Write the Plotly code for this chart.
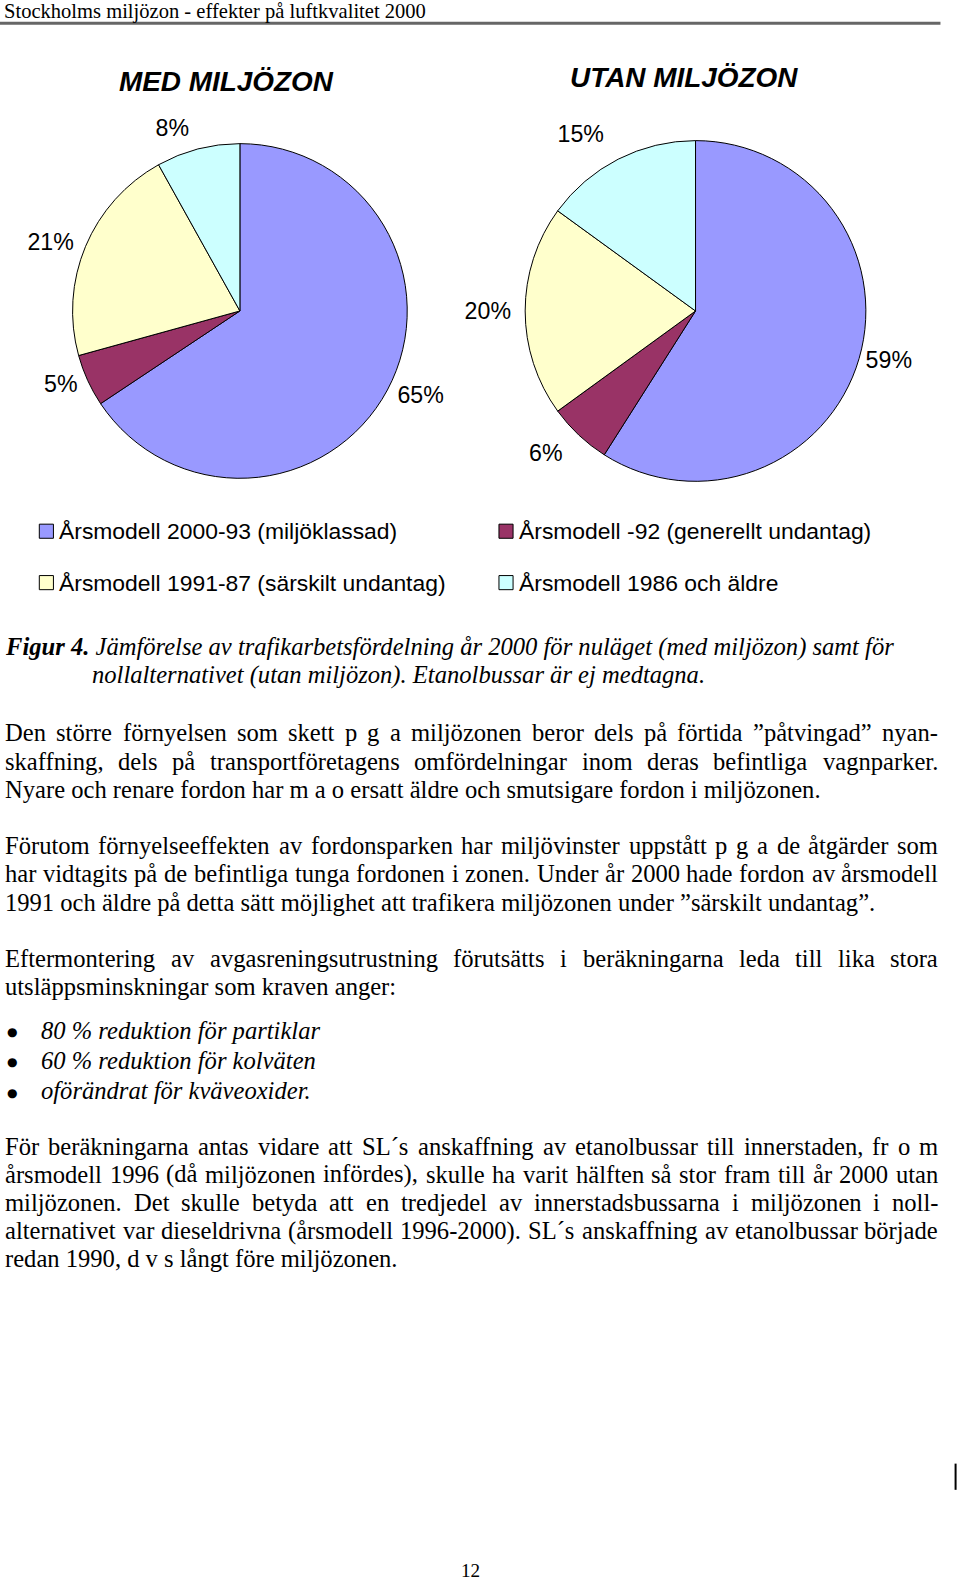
import plotly.graph_objects as go

W, H = 960, 1580

# ---------------- data ----------------
categories = [
    "Årsmodell 2000-93 (miljöklassad)",
    "Årsmodell -92 (generellt undantag)",
    "Årsmodell 1991-87 (särskilt undantag)",
    "Årsmodell 1986 och äldre",
]
med_values = [65, 5, 21, 8]      # MED MILJÖZON (%)
utan_values = [59, 6, 20, 15]    # UTAN MILJÖZON (%)
slice_colors = ["#9999FF", "#993366", "#FFFFCC", "#CCFFFF"]
pie_titles = ["MED MILJÖZON", "UTAN MILJÖZON"]

header_text = "Stockholms miljözon - effekter på luftkvalitet 2000"
caption_lines = [
    "<b><i>Figur 4.</i></b><i> Jämförelse av trafikarbetsfördelning år 2000 för nuläget (med miljözon) samt för</i>",
    "<i>nollalternativet (utan miljözon). Etanolbussar är ej medtagna.</i>",
]
# (text, justified)
body_lines = [
    ("Den större förnyelsen som skett p g a miljözonen beror dels på förtida ”påtvingad” nyan-", True),
    ("skaffning, dels på transportföretagens omfördelningar inom deras befintliga vagnparker.", True),
    ("Nyare och renare fordon har m a o ersatt äldre och smutsigare fordon i miljözonen.", False),
    ("Förutom förnyelseeffekten av fordonsparken har miljövinster uppstått p g a de åtgärder som", True),
    ("har vidtagits på de befintliga tunga fordonen i zonen. Under år 2000 hade fordon av årsmodell", True),
    ("1991 och äldre på detta sätt möjlighet att trafikera miljözonen under ”särskilt undantag”.", False),
    ("Eftermontering av avgasreningsutrustning förutsätts i beräkningarna leda till lika stora", True),
    ("utsläppsminskningar som kraven anger:", False),
    ("För beräkningarna antas vidare att SL´s anskaffning av etanolbussar till innerstaden, fr o m", True),
    ("årsmodell 1996 (då miljözonen infördes), skulle ha varit hälften så stor fram till år 2000 utan", True),
    ("miljözonen. Det skulle betyda att en tredjedel av innerstadsbussarna i miljözonen i noll-", True),
    ("alternativet var dieseldrivna (årsmodell 1996-2000). SL´s anskaffning av etanolbussar började", True),
    ("redan 1990, d v s långt före miljözonen.", False),
]
body_y = [727, 755, 783, 839, 867, 895, 951, 979, 1137, 1165, 1193, 1221, 1249]
bullet_items = [
    "80 % reduktion för partiklar",
    "60 % reduktion för kolväten",
    "oförändrat för kväveoxider.",
]
bullet_y = [1022, 1052, 1082]
page_number = "12"

# ---------------- styling / layout ----------------
K = 1.008   # the photographed page comes out ~0.992x; compensate
SERIF = "Liberation Serif, Times New Roman, serif"
SANS = "Liberation Sans, Arial, sans-serif"
BODY_FS = 24.4
TEXT_L, TEXT_R = 5, 931

TIMES = {' ': 250, '!': 333, '"': 408, '%': 833, "'": 180, '(': 333, ')': 333,
         ',': 250, '-': 333, '.': 250, '/': 278, ':': 278, ';': 278, '?': 444,
         '´': 333, '”': 444, '“': 444, '’': 333}
for d in "0123456789":
    TIMES[d] = 500
TIMES.update(dict(A=722, B=667, C=667, D=722, E=611, F=556, G=722, H=722, I=333,
                  J=389, K=722, L=611, M=889, N=722, O=722, P=556, Q=722, R=667,
                  S=556, T=611, U=722, V=722, W=944, X=722, Y=722, Z=611))
TIMES.update(dict(a=444, b=500, c=444, d=500, e=444, f=333, g=500, h=500, i=278,
                  j=278, k=500, l=278, m=778, n=500, o=500, p=500, q=500, r=333,
                  s=389, t=278, u=500, v=500, w=722, x=500, y=500, z=444))
TIMES.update({'å': 444, 'ä': 444, 'ö': 500, 'Å': 722, 'Ä': 722, 'Ö': 722, 'é': 444})


def tw(s, fs):
    return sum(TIMES.get(ch, 500) for ch in s) * fs / 1000.0


def px(x):
    return x * K / W


def py(y):
    return 1 - y * K / H


annotations = []


def add_text(x, y, text, size, family=SERIF, xanchor="left", color="black"):
    annotations.append(dict(
        x=px(x), y=py(y), xref="paper", yref="paper", text=text, showarrow=False,
        xanchor=xanchor, yanchor="middle", borderpad=0, borderwidth=0,
        font=dict(family=family, size=size * K, color=color)))


fig = go.Figure()

# pies: (cx, cy, radius, label offset, per-slice label push as fraction of radius)
pie_geo = [
    (238, 308.5, 166, 4, [0, 0, 0.01, 0.03]),
    (690, 308.5, 169, 0, [0, 0.085, 0.045, 0.10]),
]
for (cx, cy, r, lab, push), vals, name in zip(pie_geo, [med_values, utan_values], pie_titles):
    # visible pie
    fig.add_trace(go.Pie(
        labels=categories, values=vals, name=name, sort=False,
        direction="clockwise", rotation=0,
        marker=dict(colors=slice_colors, line=dict(color="black", width=1)),
        textinfo="none",
        domain=dict(x=[px(cx - r), px(cx + r)], y=[py(cy + r), py(cy - r)]),
        showlegend=False, hoverinfo="skip"))
    # transparent companion pie that carries the percentage labels a bit further out
    R = (r + lab) * (1 + max(push))
    fig.add_trace(go.Pie(
        labels=categories, values=vals, name=name + " labels", sort=False,
        direction="clockwise", rotation=0, pull=push,
        marker=dict(colors=["rgba(0,0,0,0)"] * len(vals), line=dict(width=0)),
        texttemplate="%{value}%", textposition="outside",
        outsidetextfont=dict(family=SANS, size=23 * K, color="black"),
        domain=dict(x=[px(cx - R), px(cx + R)], y=[py(cy + R), py(cy - R)]),
        showlegend=False, hoverinfo="skip"))

# pie titles
add_text(224.5, 81, "<b><i>%s</i></b>" % pie_titles[0], 27.7, SANS, "center")
add_text(679, 77, "<b><i>%s</i></b>" % pie_titles[1], 27.7, SANS, "center")

# legend (custom, 2 x 2)
shapes = []
leg_x = [39, 495]
leg_y = [527, 578]
for i, (cat, col) in enumerate(zip(categories, slice_colors)):
    x0 = leg_x[i % 2]
    y0 = leg_y[i // 2]
    shapes.append(dict(type="rect", xref="paper", yref="paper",
                       x0=px(x0), x1=px(x0 + 14), y0=py(y0 + 7), y1=py(y0 - 7),
                       fillcolor=col, line=dict(color="black", width=1)))
    add_text(x0 + 20, y0, cat, 22.7, SANS)

# header
add_text(4, 11, header_text, 20.4)
shapes.append(dict(type="line", xref="paper", yref="paper", x0=0, x1=px(933),
                   y0=py(23), y1=py(23), line=dict(color="#666666", width=3)))

# caption
add_text(TEXT_L, 642, caption_lines[0], BODY_FS)
add_text(91, 670, caption_lines[1], BODY_FS)

# body text (justified where appropriate)
for (line, just), yy in zip(body_lines, body_y):
    if not just:
        add_text(TEXT_L, yy, line, BODY_FS)
        continue
    words = line.split(" ")
    widths = [tw(w, BODY_FS) for w in words]
    gap = (TEXT_R - TEXT_L - sum(widths)) / (len(words) - 1)
    x = TEXT_L
    for k, (w, wd) in enumerate(zip(words, widths)):
        if k == len(words) - 1:
            add_text(TEXT_R, yy, w, BODY_FS, xanchor="right")
        else:
            add_text(x, yy, w, BODY_FS)
        x += wd + gap

# bullets
for item, yy in zip(bullet_items, bullet_y):
    add_text(12, yy + 2, "●", 12, "DejaVu Sans", xanchor="center")
    add_text(41, yy, "<i>%s</i>" % item, BODY_FS)

# page number and change bar
add_text(467, 1558, page_number, 19, xanchor="center")
shapes.append(dict(type="line", xref="paper", yref="paper", x0=px(948), x1=px(948),
                   y0=py(1452), y1=py(1478), line=dict(color="black", width=2)))

fig.update_layout(
    width=W, height=H, margin=dict(l=0, r=0, t=0, b=0),
    paper_bgcolor="white", plot_bgcolor="white",
    font=dict(family=SERIF, color="black"),
    annotations=annotations, shapes=shapes, showlegend=False)

# remove the default page margin right away (not only after the plot promise resolves)
page_css = ("document.documentElement.style.margin='0';"
            "document.body.style.margin='0';"
            "document.documentElement.style.overflow='hidden';"
            "document.body.style.overflow='hidden';")
fig.write_html(
    "out.html", config={"displayModeBar": False},
    post_script="}); " + page_css + " (function(){")
